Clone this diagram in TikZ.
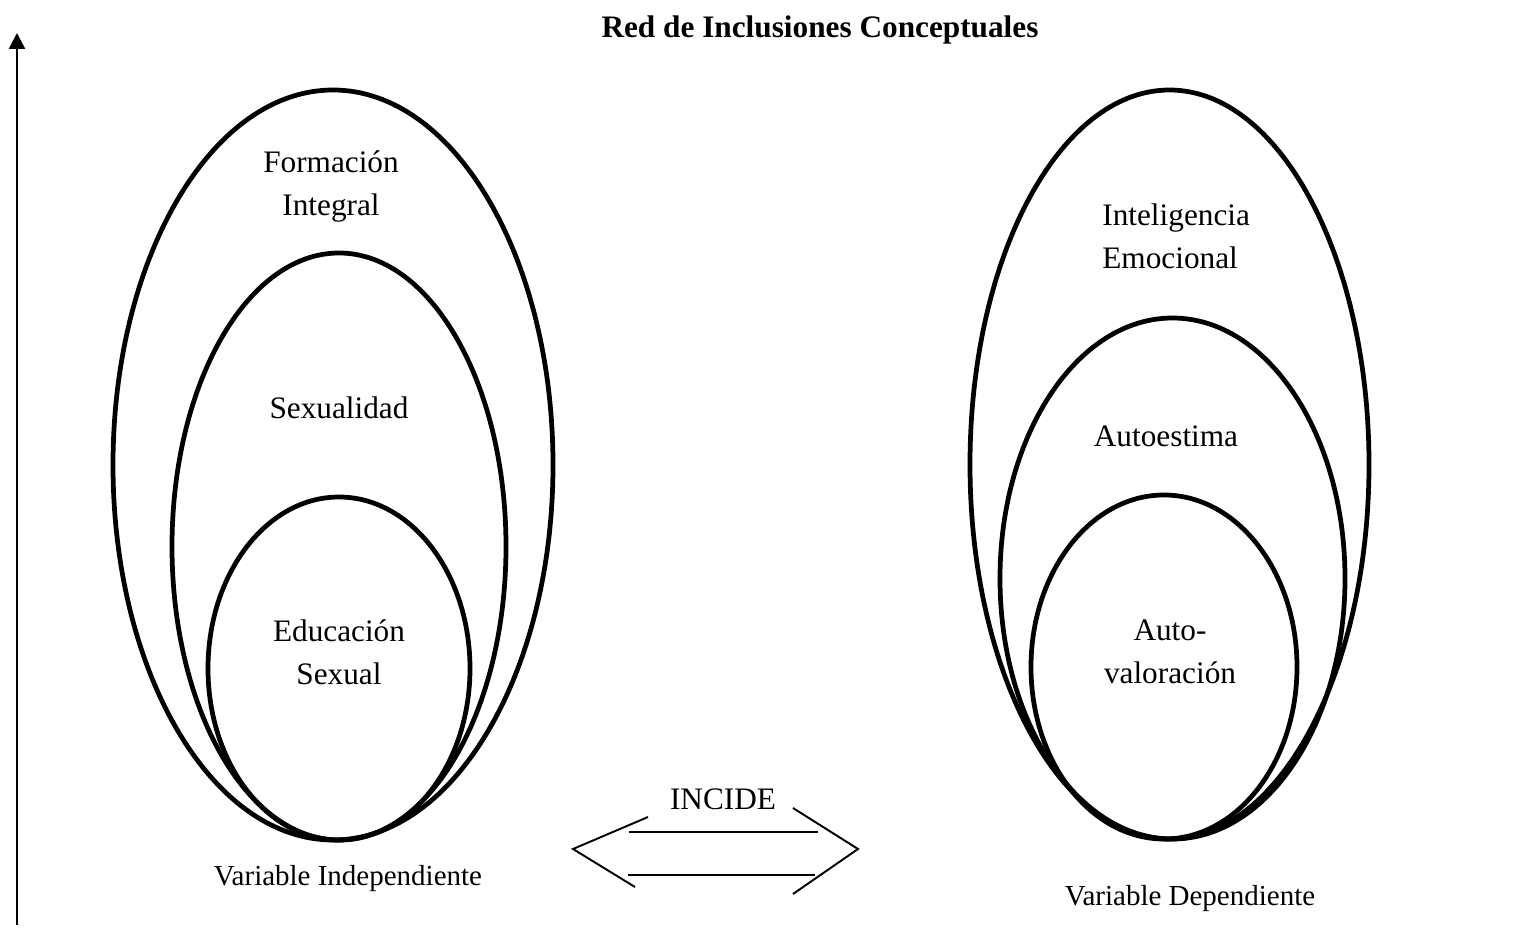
\documentclass[tikz,border=0pt]{standalone}
\usepackage{fontspec}
\setmainfont{Liberation Serif}
\usetikzlibrary{arrows.meta, positioning}

\begin{document}
\begin{tikzpicture}[x=0.02cm, y=-0.02cm,
    etiqueta/.style={font=\fontsize{17.8}{24.4}\selectfont, align=center, anchor=base, inner sep=0pt},
    rotulovar/.style={font=\fontsize{16.5}{20}\selectfont, anchor=base, inner sep=0pt},
    conjunto/.style={black, line width=2.7pt},
    flecha/.style={black, line width=1.1pt}]
    \useasboundingbox (0,0) rectangle (1519,936);

    % titulo y eje
    \node[etiqueta, font=\fontsize{17.8}{24.4}\selectfont\bfseries] (titulo) at (820,38) {Red de Inclusiones Conceptuales};
    \coordinate (ejeinf) at (17,925);
    \coordinate (ejesup) at (17,33);
    \draw[black, line width=1.5pt, -{Triangle[length=9pt,width=9pt]}] (ejeinf) -- (ejesup);

    % variable independiente
    \draw[conjunto] (333,465) ellipse [x radius=220, y radius=375];
    \draw[conjunto] (339,546.5) ellipse [x radius=167, y radius=293.5];
    \draw[conjunto] (339,668.5) ellipse [x radius=131, y radius=171.5];
    \node[etiqueta] (formacion) at (331,215) {Formación\\Integral};
    \node[etiqueta] (sexualidad) at (339,418) {Sexualidad};
    \node[etiqueta] (educacion) at (339,684) {Educación\\Sexual};
    \node[rotulovar] (indep) at (348,885) {Variable Independiente};

    % variable dependiente
    \draw[conjunto] (1169.5,464.5) ellipse [x radius=199.5, y radius=374.5];
    \draw[conjunto] (1172.5,578.5) ellipse [x radius=172.5, y radius=260.5];
    \draw[conjunto] (1164,667) ellipse [x radius=133, y radius=172];
    \node[etiqueta, align=left, anchor=base west] (inteligencia) at (1102,268) {Inteligencia\\Emocional};
    \node[etiqueta] (autoestima) at (1166,446) {Autoestima};
    \node[etiqueta] (autovaloracion) at (1170,683) {Auto-\\valoración};
    \node[rotulovar] (dep) at (1190,905) {Variable Dependiente};

    % doble flecha
    \node[etiqueta] (incide) at (723,809) {INCIDE};
    \coordinate (izqpunta) at (573,849);
    \coordinate (izqsup) at (648,817);
    \coordinate (izqinf) at (635,887);
    \coordinate (derpunta) at (858,849);
    \coordinate (dersup) at (793,808);
    \coordinate (derinf) at (793,894);
    \coordinate (lineaA1) at (629,832);
    \coordinate (lineaA2) at (818,832);
    \coordinate (lineaB1) at (628,875);
    \coordinate (lineaB2) at (815,875);
    \draw[flecha] (izqsup) -- (izqpunta) -- (izqinf);
    \draw[flecha] (dersup) -- (derpunta) -- (derinf);
    \draw[flecha] (lineaA1) -- (lineaA2);
    \draw[flecha] (lineaB1) -- (lineaB2);
\end{tikzpicture}
\end{document}
